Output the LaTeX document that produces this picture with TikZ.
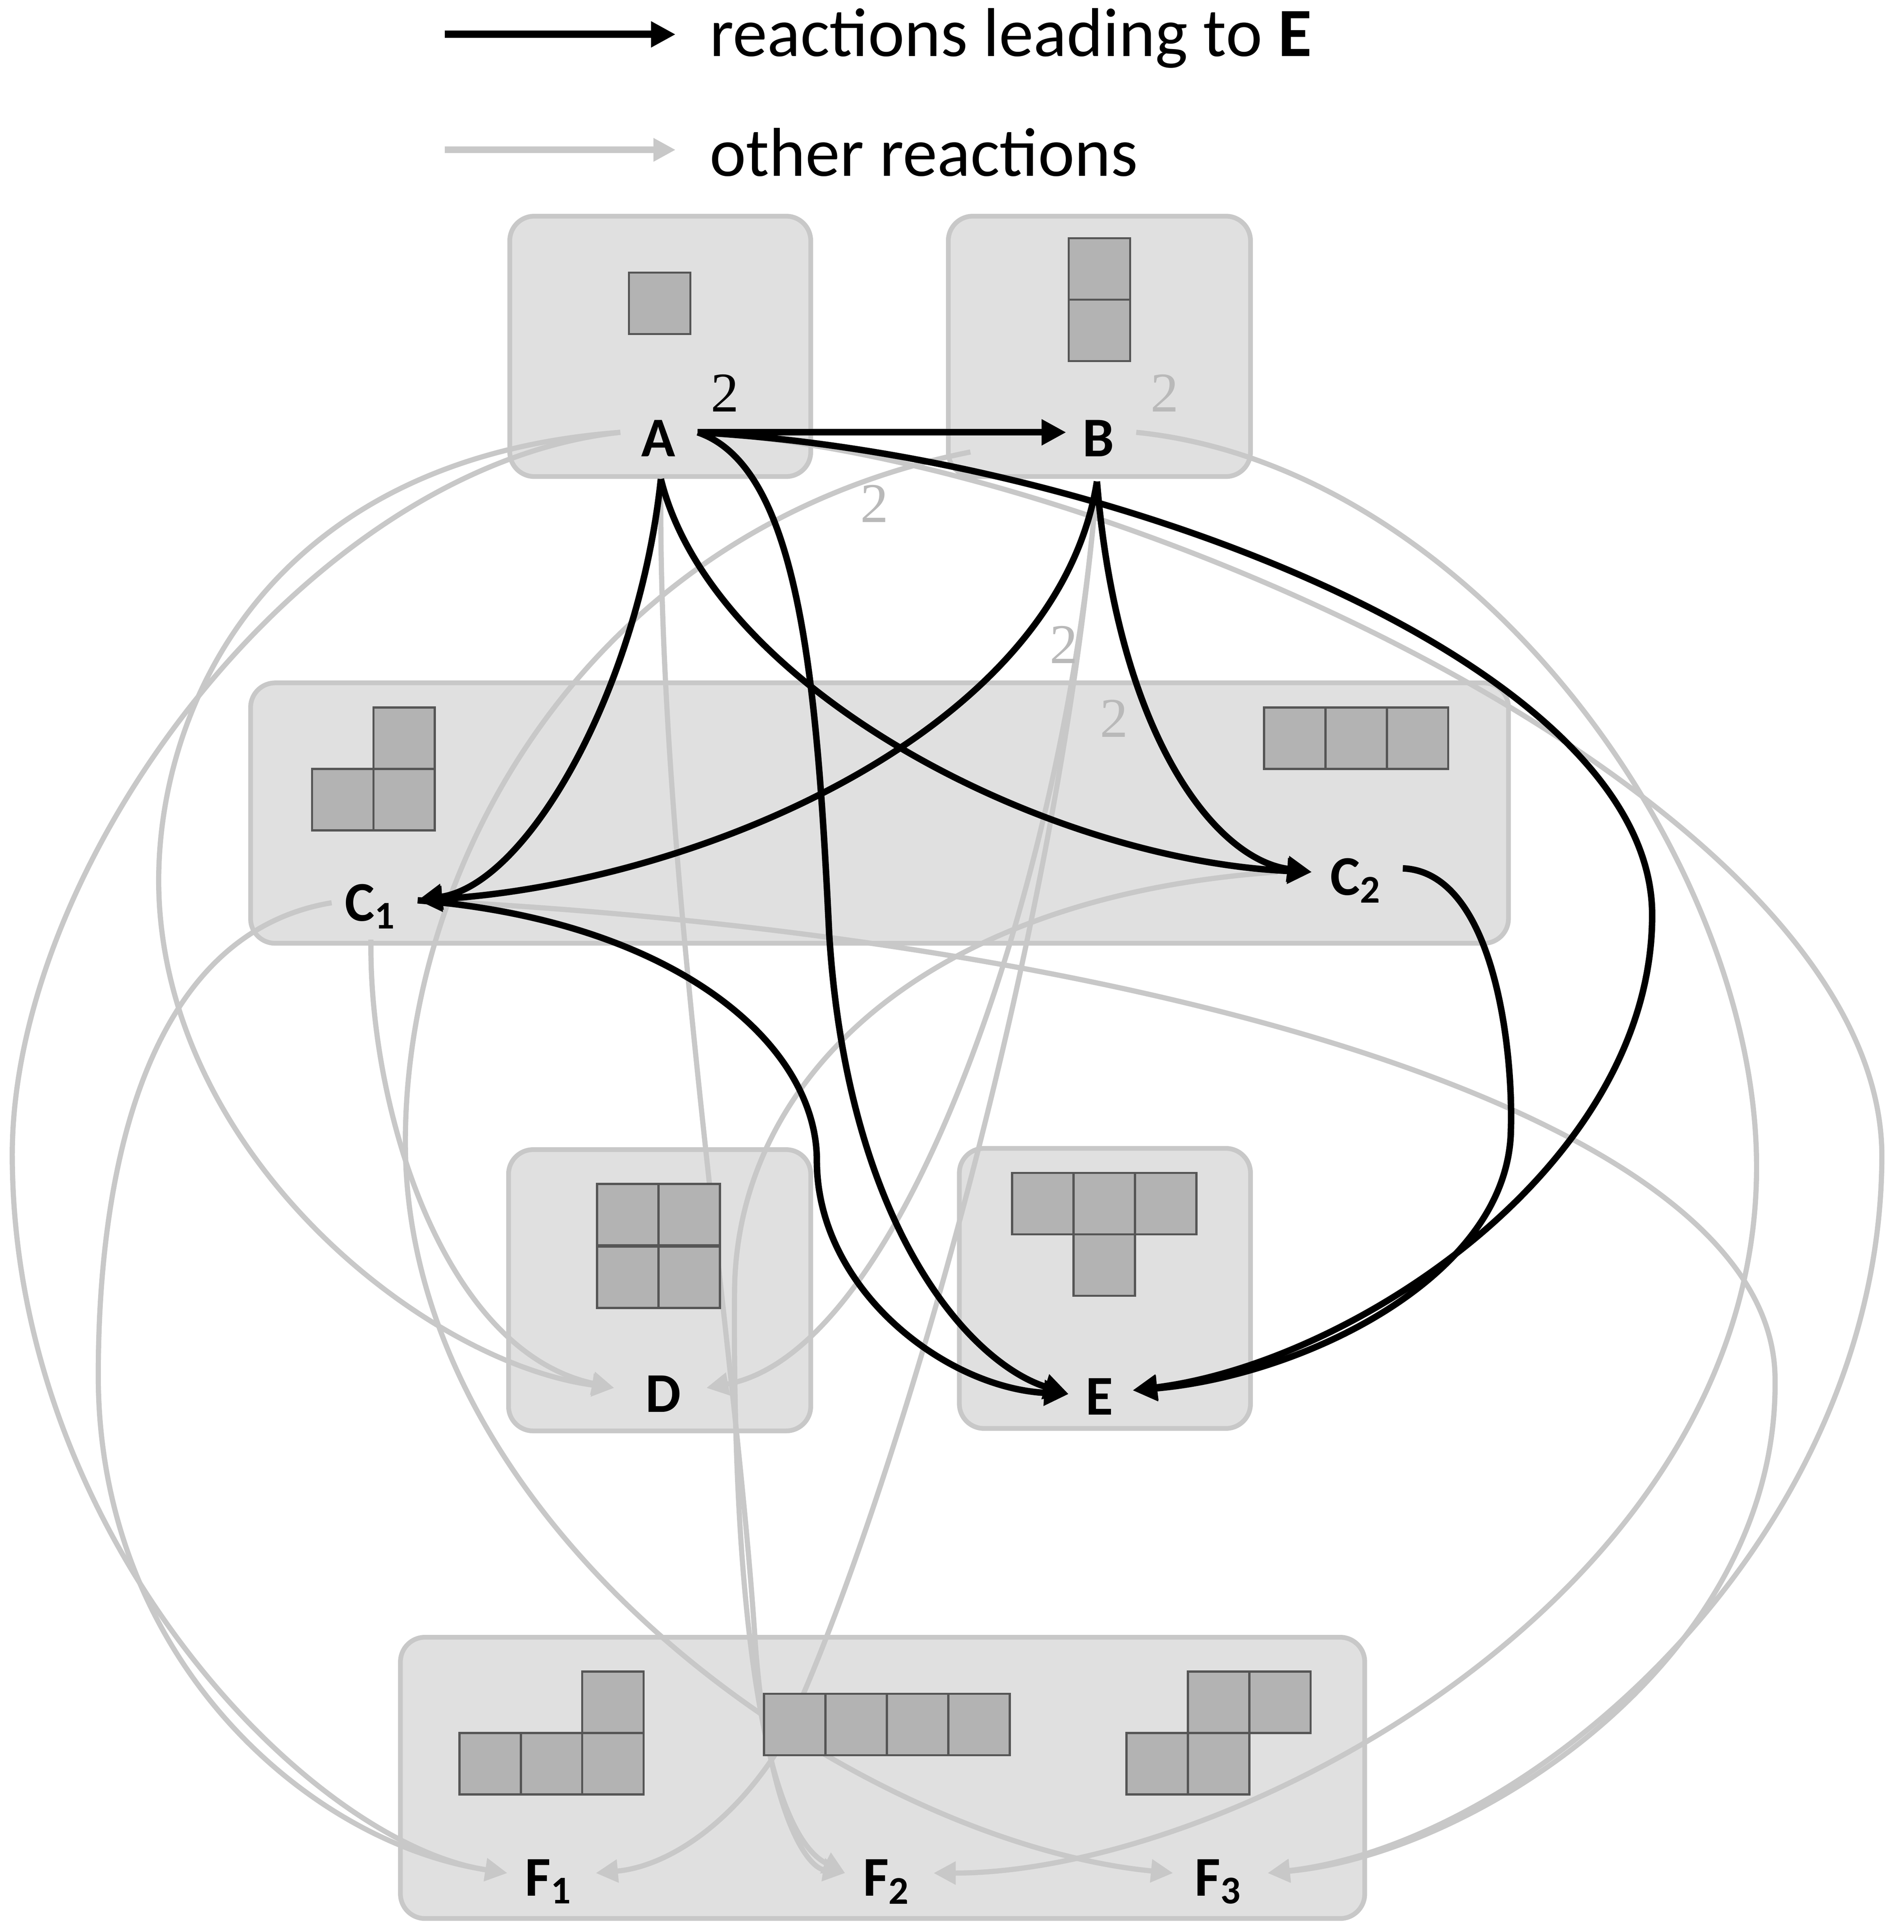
\documentclass[tikz,border=0pt]{standalone}
\usepackage{fontspec}
\setmainfont{Carlito}
\newfontfamily\numfont{Liberation Serif}
\usetikzlibrary{arrows.meta}
\definecolor{boxfill}{HTML}{E0E0E0}
\definecolor{boxline}{HTML}{C8C8C8}
\definecolor{sq}{HTML}{B3B3B3}
\definecolor{sqline}{HTML}{555555}
\definecolor{lg}{HTML}{C8C8C8}
\begin{document}
\begin{tikzpicture}[x=0.01cm,y=-0.01cm,
  box/.style={fill=boxfill,draw=boxline,line width=1.1pt,rounded corners=0.2cm},
  sqs/.style={fill=sq,draw=sqline,line width=0.5pt},
  lab/.style={font=\fontsize{13}{13}\selectfont\bfseries,inner sep=0pt},
  blk/.style={line width=1.5pt,black,-{Triangle[length=0.2cm,width=0.2cm]}},
  gry/.style={line width=1.2pt,lg,-{Triangle[length=0.18cm,width=0.18cm]}},
  two/.style={font=\numfont\fontsize{13}{13}\selectfont,inner sep=0pt}]
\useasboundingbox (0,0) rectangle (1550,1573);
% legend
\coordinate (l1a) at (362,28); \coordinate (l1b) at (550,28);
\coordinate (l2a) at (362,122); \coordinate (l2b) at (550,122);
\draw[blk,line width=1.7pt] (l1a) -- (l1b);
\draw[gry,line width=1.5pt] (l2a) -- (l2b);
\node[anchor=west,font=\fontsize{16}{16}\selectfont,inner sep=0pt] (t1) at (577,31) {reactions leading to \textbf{E}};
\node[anchor=west,font=\fontsize{16}{16}\selectfont,inner sep=0pt] (t2) at (577,124) {other reactions};
% boxes
\draw[box] (415,176) rectangle (660,388);
\draw[box] (772,176) rectangle (1018,388);
\draw[box] (204,556) rectangle (1228,768);
\draw[box] (414,936) rectangle (660,1165);
\draw[box] (781,935) rectangle (1018,1163);
\draw[box] (326,1333) rectangle (1111,1562);
% labels
\node[lab] (A) at (536,357) {A};
\node[lab] (B) at (894,357) {B};
\node[lab] (C1) at (302,738) {C$_\mathbf{1}$};
\node[lab] (C2) at (1104,717) {C$_\mathbf{2}$};
\node[lab] (D) at (540,1135) {D};
\node[lab] (E) at (895,1137) {E};
\node[lab] (F1) at (447,1532) {F$_\mathbf{1}$};
\node[lab] (F2) at (722,1532) {F$_\mathbf{2}$};
\node[lab] (F3) at (992,1532) {F$_\mathbf{3}$};
% endpoints
\coordinate (Ar) at (568,352); \coordinate (Al) at (505,352); \coordinate (Ab) at (538,390);
\coordinate (Bl) at (868,352); \coordinate (Bll) at (790,368); \coordinate (Bb) at (893,392); \coordinate (Br) at (925,352);
\coordinate (C1r) at (340,733); \coordinate (C1l) at (270,735); \coordinate (C1b) at (302,765);
\coordinate (C2l) at (1068,710); \coordinate (C2ll) at (1040,710); \coordinate (C2r) at (1142,707);
\coordinate (Dl) at (500,1130); \coordinate (Dr) at (575,1130);
\coordinate (El) at (870,1135); \coordinate (Er) at (922,1132);
\coordinate (F1l) at (413,1525); \coordinate (F1r) at (485,1525);
\coordinate (F2l) at (688,1525); \coordinate (F2r) at (760,1525);
\coordinate (F3l) at (955,1525); \coordinate (F3r) at (1032,1525);
% gray reactions
\draw[gry] (Al) .. controls (200,375) and (120,600) .. (130,740) .. controls (145,950) and (350,1110) .. (Dl);
\draw[gry] (Al) .. controls (250,380) and (10,700) .. (10,940) .. controls (10,1250) and (250,1500) .. (F1l);
\draw[gry] (Ab) .. controls (535,700) and (600,1100) .. (615,1340) .. controls (625,1470) and (655,1520) .. (F2l);
\draw[gry] (Bll) .. controls (480,430) and (330,700) .. (330,930) .. controls (330,1250) and (700,1500) .. (F3l);
\draw[gry] (Bb) .. controls (860,800) and (700,1300) .. (630,1430) .. controls (590,1490) and (540,1520) .. (F1r);
\draw[gry] (Bb) .. controls (870,700) and (740,1100) .. (Dr);
\draw[gry] (C2ll) .. controls (750,730) and (600,880) .. (598,1050) .. controls (596,1300) and (620,1490) .. (F2l);
\draw[gry] (C1l) .. controls (120,760) and (80,950) .. (80,1120) .. controls (80,1350) and (250,1500) .. (F1l);
\draw[gry] (C1b) .. controls (300,900) and (360,1100) .. (Dl);
\draw[gry] (C1r) .. controls (900,760) and (1440,900) .. (1445,1120) .. controls (1450,1350) and (1200,1510) .. (F3r);
\draw[gry] (Br) .. controls (1200,380) and (1430,700) .. (1430,950) .. controls (1430,1300) and (1000,1525) .. (F2r);
\draw[gry] (Ar) .. controls (900,370) and (1530,650) .. (1532,940) .. controls (1532,1250) and (1250,1500) .. (F3r);
% squares
\newcommand{\sqr}[2]{\draw[sqs] (#1,#2) rectangle ++(50,50);}
\sqr{512}{222}
\sqr{870}{194}\sqr{870}{244}
\sqr{304}{576}\sqr{254}{626}\sqr{304}{626}
\sqr{1029}{576}\sqr{1079}{576}\sqr{1129}{576}
\sqr{486}{964}\sqr{536}{964}\sqr{486}{1015}\sqr{536}{1015}
\sqr{824}{955}\sqr{874}{955}\sqr{924}{955}\sqr{874}{1005}
\sqr{474}{1361}\sqr{374}{1411}\sqr{424}{1411}\sqr{474}{1411}
\sqr{622}{1379}\sqr{672}{1379}\sqr{722}{1379}\sqr{772}{1379}
\sqr{967}{1361}\sqr{1017}{1361}\sqr{917}{1411}\sqr{967}{1411}
% black reactions
\draw[blk] (Ar) -- (Bl);
\draw[blk] (Ab) .. controls (520,560) and (430,720) .. (C1r);
\draw[blk] (Ab) .. controls (580,560) and (850,700) .. (C2l);
\draw[blk] (Ar) .. controls (650,380) and (665,550) .. (675,760) .. controls (690,1000) and (790,1110) .. (El);
\draw[blk] (Ar) .. controls (900,370) and (1345,540) .. (1345,745) .. controls (1345,950) and (1100,1110) .. (Er);
\draw[blk] (Bb) .. controls (860,600) and (560,720) .. (C1r);
\draw[blk] (Bb) .. controls (910,600) and (990,700) .. (C2l);
\draw[blk] (C2r) .. controls (1215,710) and (1232,850) .. (1230,920) .. controls (1228,1040) and (1060,1120) .. (Er);
\draw[blk] (C1r) .. controls (550,750) and (665,850) .. (665,945) .. controls (665,1050) and (770,1130) .. (El);
% stoichiometry
\node[two] (n1) at (590,320) {2};
\node[two,text=lg!80!gray] (n2) at (948,320) {2};
\node[two,text=lg!80!gray] (n3) at (712,410) {2};
\node[two,text=lg!80!gray] (n4) at (866,525) {2};
\node[two,text=lg!80!gray] (n5) at (907,585) {2};
\end{tikzpicture}
\end{document}
